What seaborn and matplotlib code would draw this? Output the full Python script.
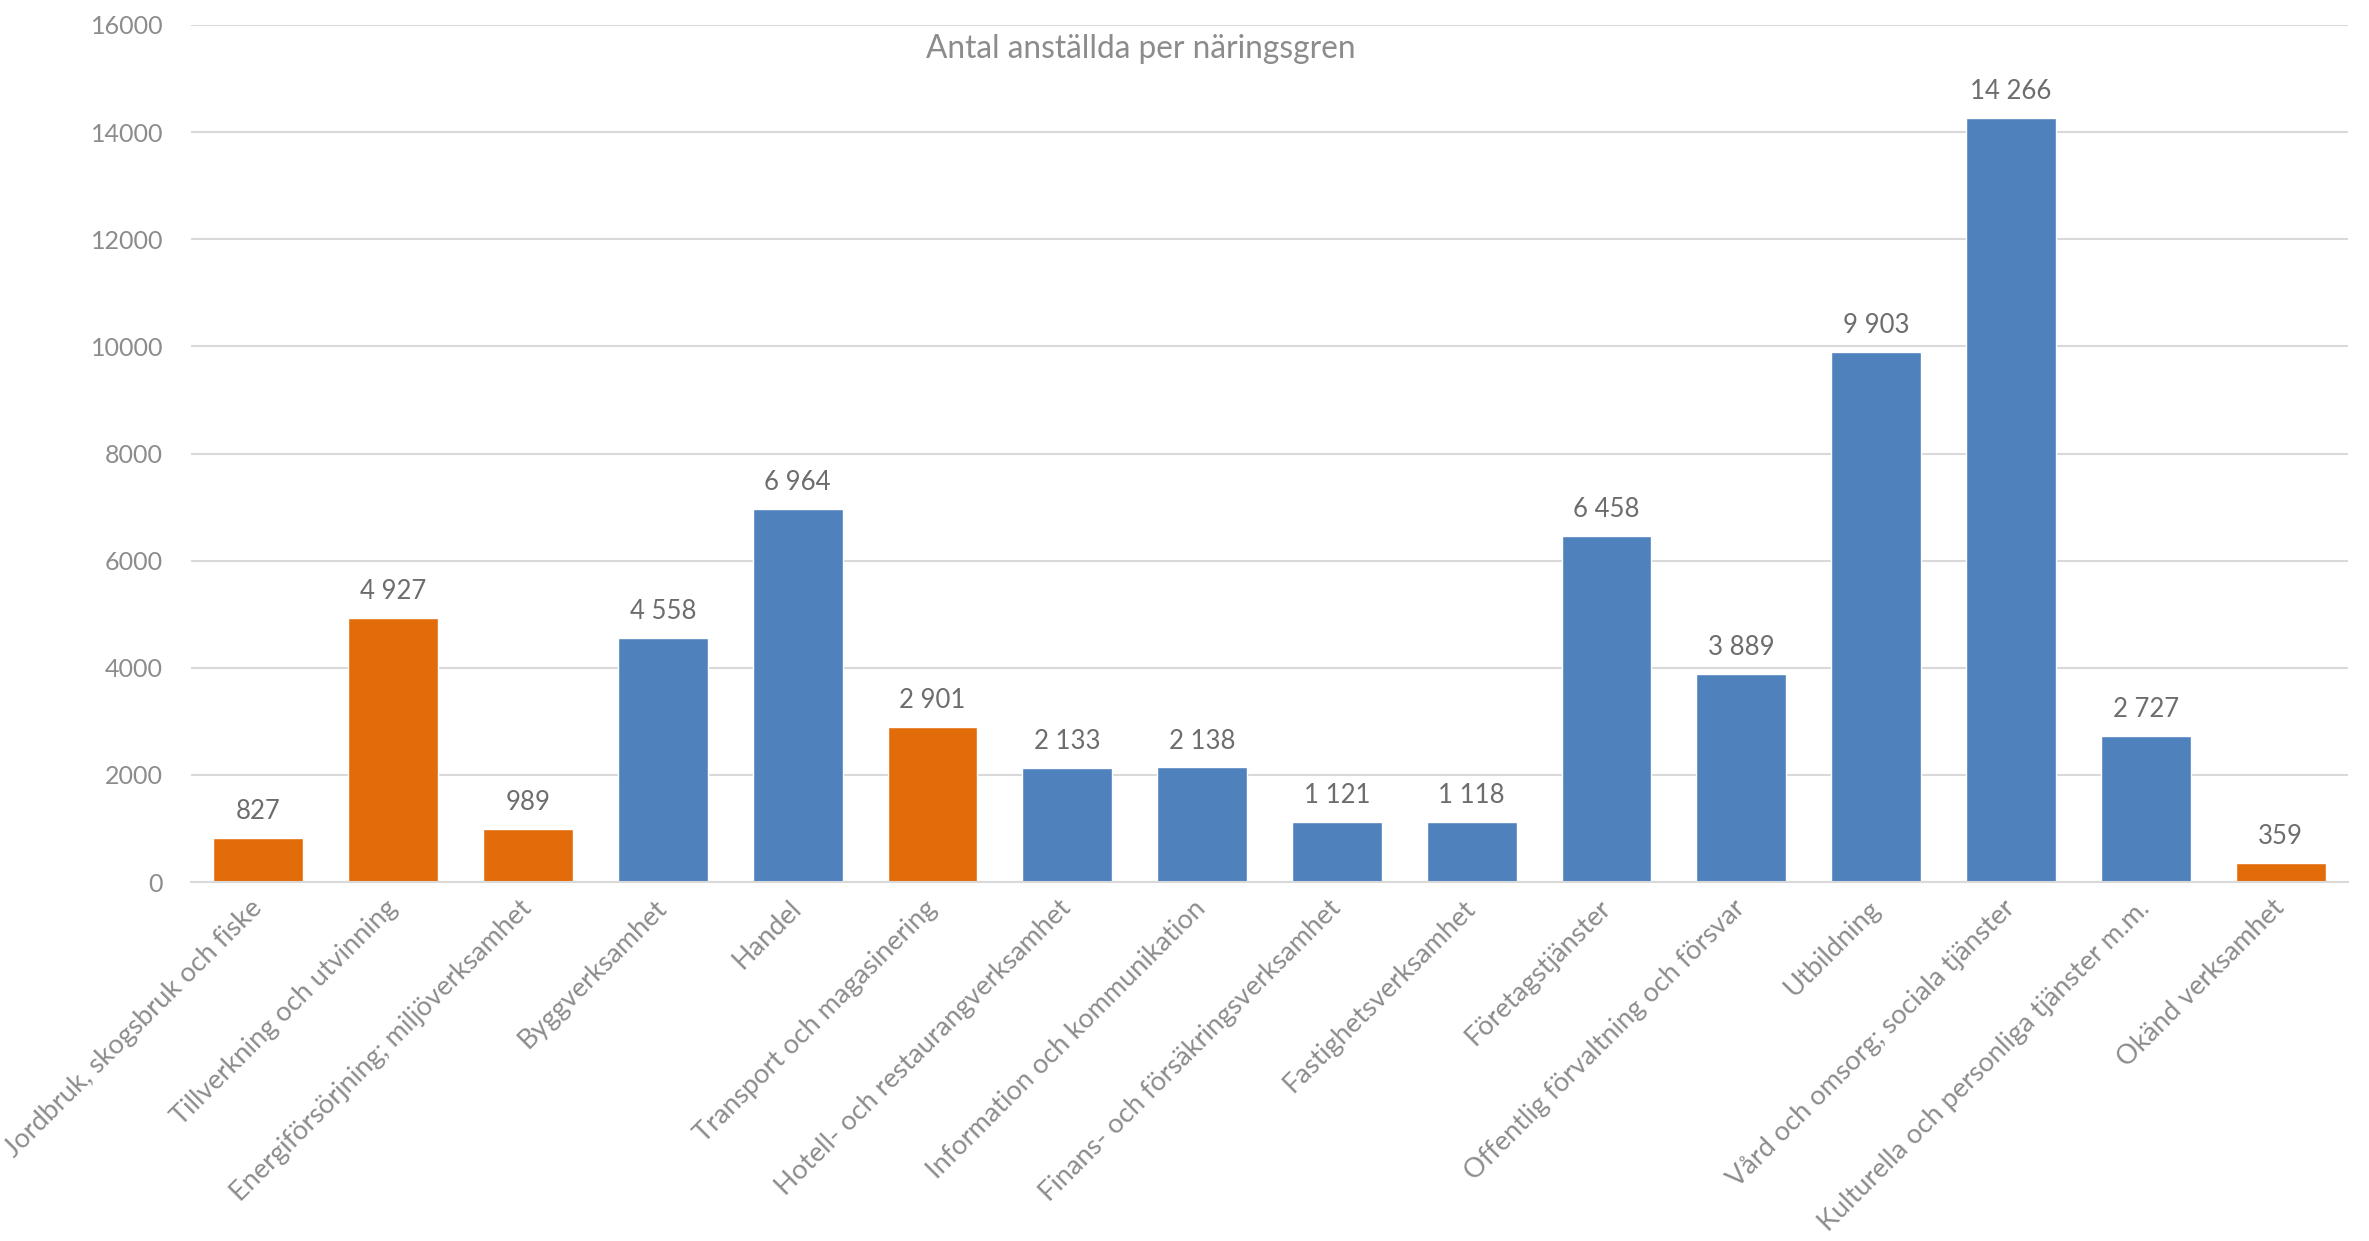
import matplotlib
matplotlib.use("Agg")
import matplotlib.pyplot as plt
import seaborn as sns

# Data
naringsgren = [
    "Jordbruk, skogsbruk och fiske",
    "Tillverkning och utvinning",
    "Energiförsörjning; miljöverksamhet",
    "Byggverksamhet",
    "Handel",
    "Transport och magasinering",
    "Hotell- och restaurangverksamhet",
    "Information och kommunikation",
    "Finans- och försäkringsverksamhet",
    "Fastighetsverksamhet",
    "Företagstjänster",
    "Offentlig förvaltning och försvar",
    "Utbildning",
    "Vård och omsorg; sociala tjänster",
    "Kulturella och personliga tjänster m.m.",
    "Okänd verksamhet",
]
anstallda = [827, 4927, 989, 4558, 6964, 2901, 2133, 2138, 1121, 1118,
             6458, 3889, 9903, 14266, 2727, 359]
markerad = [True, True, True, False, False, True, False, False, False, False,
            False, False, False, False, False, True]

BLA = "#4f81bd"
ORANGE = "#e36c0a"
GRID = "#d9d9d9"
TEXT = "#8c8c8c"

sns.set_theme(style="white")
plt.rcParams["font.family"] = ["Lato", "DejaVu Sans"]

fig = plt.figure(figsize=(23.69, 12.41), dpi=100)
ax = fig.add_axes([191 / 2369, 1 - 882 / 1241, (2348 - 191) / 2369, (882 - 25) / 1241])

farger = [ORANGE if m else BLA for m in markerad]
sns.barplot(x=naringsgren, y=anstallda, hue=naringsgren, palette=farger,
            legend=False, width=0.667, saturation=1, ax=ax)

ax.set_ylim(0, 16000)
ax.set_xlim(-0.5, len(naringsgren) - 0.5)
ax.set_yticks(range(0, 16001, 2000))
ax.set_yticklabels([str(t) for t in range(0, 16001, 2000)])
ax.yaxis.grid(True, color=GRID, linewidth=1.5)
ax.set_axisbelow(True)
for s in ["top", "right", "left"]:
    ax.spines[s].set_visible(False)
ax.spines["bottom"].set_color(GRID)
ax.spines["bottom"].set_linewidth(1.5)

ax.tick_params(axis="y", length=0, pad=20, labelsize=18, labelcolor=TEXT)
ax.tick_params(axis="x", length=0, pad=16, labelsize=19.5, labelcolor=TEXT)
plt.setp(ax.get_xticklabels(), rotation=45, ha="right", va="center",
         rotation_mode="anchor")

# etiketter ovanför staplarna
for i, v in enumerate(anstallda):
    ax.annotate(f"{v:,}".replace(",", " "), (i, v), xytext=(0, 10),
                textcoords="offset points", ha="center", va="bottom",
                fontsize=18.5, color="#6d6d6d")

ax.set_xlabel("")
ax.set_ylabel("")
fig.text(1141 / 2369, 1 - 49 / 1241, "Antal anställda per näringsgren",
         ha="center", va="center", fontsize=22.8, color=TEXT)

fig.savefig("out.png", dpi=100, facecolor="white")
